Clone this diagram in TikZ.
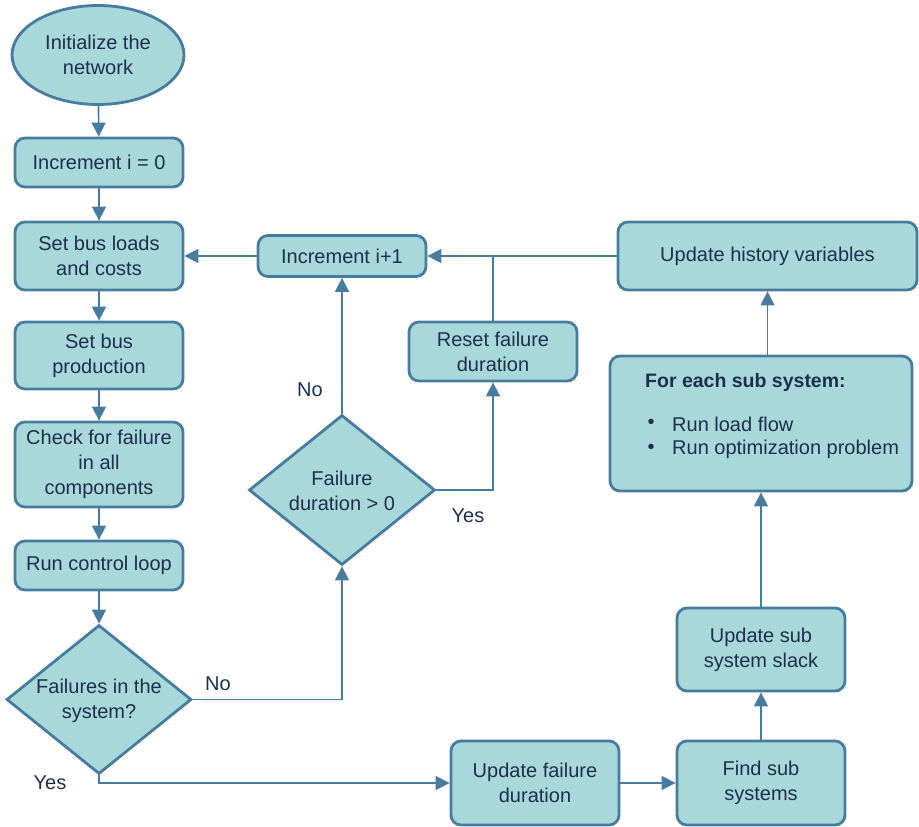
\documentclass[tikz,border=0pt]{standalone}
\usepackage{fontspec}
\setmainfont{Liberation Sans}
\usetikzlibrary{shapes.geometric,arrows.meta}
\definecolor{boxfill}{RGB}{168,216,218}
\definecolor{boxline}{RGB}{72,124,158}
\definecolor{ink}{RGB}{30,46,78}

\tikzset{
  base/.style={draw=boxline, fill=boxfill, line width=2.8pt, text=ink,
    font=\fontsize{20}{25}\selectfont, align=center, inner sep=0pt},
  proc/.style={base, rectangle, rounded corners=10pt},
  decide/.style={base, diamond},
  startnode/.style={base, ellipse},
  conn/.style={draw=boxline, line width=1.6pt, -{Triangle[length=14pt,width=14pt]}},
  plain/.style={draw=boxline, line width=1.6pt},
  lbl/.style={text=ink, font=\fontsize{20}{25}\selectfont, inner sep=0pt, align=center},
}

\begin{document}
\begin{tikzpicture}[x=1pt, y=-1pt]
  \useasboundingbox (0,0) rectangle (919,827);

  % left column
  \node[startnode, minimum width=172pt, minimum height=99pt] (init) at (98,55) {Initialize the\\network};
  \node[proc, minimum width=168pt, minimum height=49pt] (inc0) at (99,162.5) {Increment i = 0};
  \node[proc, minimum width=168pt, minimum height=68pt] (loads) at (99,256) {Set bus loads\\and costs};
  \node[proc, minimum width=168pt, minimum height=67pt] (prod) at (99,355.5) {Set bus\\production};
  \node[proc, minimum width=168pt, minimum height=85pt] (check) at (99,464.5) {Check for failure\\in all\\components};
  \node[proc, minimum width=168pt, minimum height=49pt] (ctrl) at (99,565.5) {Run control loop};
  \node[decide, minimum width=185pt, minimum height=149pt] (fail) at (99,699.5) {};
  \node[lbl] (failtext) at (99,700.5) {Failures in the\\system?};

  % middle
  \node[proc, minimum width=168pt, minimum height=41pt] (inc1) at (342,256) {Increment i+1};
  \node[proc, minimum width=168pt, minimum height=59pt] (reset) at (493,351.5) {Reset failure\\duration};
  \node[decide, minimum width=186pt, minimum height=150pt] (dur) at (342,490) {};
  \node[lbl] (durtext) at (342,491) {Failure\\duration > 0};
  \node[proc, minimum width=168pt, minimum height=84pt] (upd) at (535,783) {Update failure\\duration};

  % right column
  \node[proc, minimum width=299pt, minimum height=68pt] (hist) at (767.5,256) {Update history variables};
  \node[proc, minimum width=302pt, minimum height=135pt] (loop) at (761,423.5) {};
  \node[lbl, anchor=west, font=\fontsize{19.5}{25}\selectfont\bfseries] (looptitle) at (645,382) {For each sub system:};
  \node[lbl, anchor=center] (b1) at (651,424) {\textbullet};
  \node[lbl, anchor=west] (step1) at (672,424) {Run load flow};
  \node[lbl, anchor=center] (b2) at (651,449) {\textbullet};
  \node[lbl, anchor=west] (step2) at (672,449) {Run optimization problem};
  \node[proc, minimum width=168pt, minimum height=83pt] (slack) at (761,649.5) {Update sub\\system slack};
  \node[proc, minimum width=168pt, minimum height=84pt] (find) at (761,783) {Find sub\\systems};

  % main sequence
  \draw[conn] (init) -- (inc0);
  \draw[conn] (inc0) -- (loads);
  \draw[conn] (loads) -- (prod);
  \draw[conn] (prod) -- (check);
  \draw[conn] (check) -- (ctrl);
  \draw[conn] (ctrl) -- (fail);

  % no failure branch
  \draw[conn] (fail.east) -| (dur.south);
  \node[lbl] (no1) at (218,684) {No};
  \draw[conn] (dur.north) -- (inc1.south);
  \node[lbl] (no2) at (310,390) {No};
  \draw[conn] (dur.east) -| (reset.south);
  \node[lbl] (yes2) at (468,516) {Yes};
  \draw[plain] (reset.north) -- (reset.north |- hist.west);
  \draw[conn] (inc1.west) -- (loads.east);

  % failure branch
  \draw[conn] (fail.south) |- (upd.west);
  \node[lbl] (yes1) at (50,783) {Yes};
  \draw[conn] (upd.east) -- (find.west);
  \draw[conn] (find) -- (slack);
  \draw[conn] (slack) -- (loop);
  \draw[conn] (loop.north -| hist.south) -- (hist.south);
  \draw[conn] (hist.west) -- (inc1.east);
\end{tikzpicture}
\end{document}
